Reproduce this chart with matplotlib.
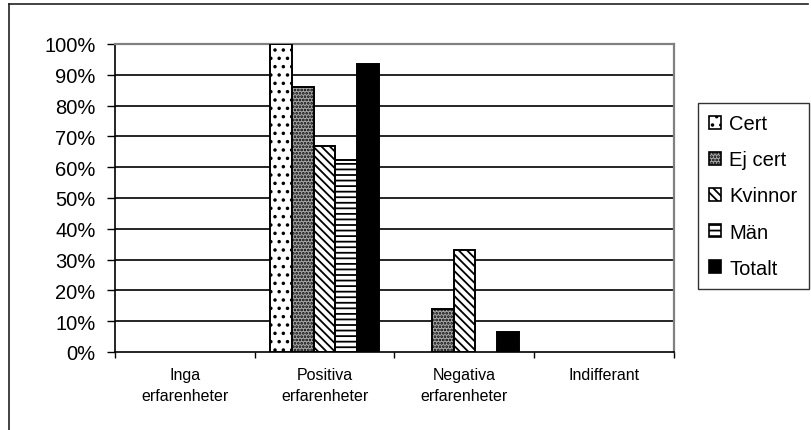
import matplotlib
matplotlib.use("Agg")
import matplotlib.pyplot as plt
import numpy as np
from matplotlib.lines import Line2D

plt.rcParams['font.family'] = ['Liberation Sans', 'DejaVu Sans']
plt.rcParams['hatch.linewidth'] = 1.3

categories = ["Inga\nerfarenheter", "Positiva\nerfarenheter", "Negativa\nerfarenheter", "Indifferant"]
series_names = ["Cert", "Ej cert", "Kvinnor", "Män", "Totalt"]
cert = [0, 100, 0, 0]
ej_cert = [0, 86, 14, 0]
kvinnor = [0, 67, 33, 0]
man = [0, 62.5, 0, 0]
totalt = [0, 93.5, 6.5, 0]
yticks = [0, 10, 20, 30, 40, 50, 60, 70, 80, 90, 100]
ytick_labels = [f"{v}%" for v in yticks]

series = [cert, ej_cert, kvinnor, man, totalt]
styles = [
    dict(facecolor='white', hatch='..'),
    dict(facecolor='#a8a8a8', hatch='.....'),
    dict(facecolor='white', hatch='\\\\\\\\'),
    dict(facecolor='white', hatch='---'),
    dict(facecolor='black', hatch=None),
]

fig = plt.figure(figsize=(8.12, 4.31), dpi=100)
ax = fig.add_axes([115/812, 1-353/431, (674-115)/812, (353-45)/431])

n = len(series)
w = 0.155
x = np.arange(len(categories)) + 0.5
handles = []
for i, (vals, st) in enumerate(zip(series, styles)):
    vals = np.array(vals, dtype=float)
    mask = vals > 0
    xs = x[mask] + (i - (n - 1) / 2) * w
    kw = {k: v for k, v in st.items() if v is not None}
    ax.bar(xs, vals[mask], width=w, edgecolor='black', linewidth=1.4,
           zorder=3, **kw)
    h = plt.Rectangle((0, 0), 1, 1, edgecolor='black', linewidth=1.2, **kw)
    handles.append(h)

ax.set_xlim(0, 4)
ax.set_ylim(0, 100)
ax.set_yticks(yticks)
ax.set_yticklabels(ytick_labels, fontsize=14.5)
for yv in yticks[1:-1]:
    ax.axhline(yv, color='black', linewidth=1.2, zorder=1)

ax.set_xticks([0, 1, 2, 3, 4])
ax.set_xticklabels([])
ax.set_xticks(x, minor=True)
ax.set_xticklabels(categories, minor=True, fontsize=11.5, linespacing=1.45)
ax.tick_params(axis='x', which='minor', length=0, pad=11)
ax.tick_params(axis='x', which='major', length=4, width=1, direction='out')
ax.tick_params(axis='y', length=6, width=1, direction='out', pad=8)

for s in ['top', 'right']:
    ax.spines[s].set_color('#808080')
    ax.spines[s].set_linewidth(1.6)
for s in ['left', 'bottom']:
    ax.spines[s].set_color('black')
    ax.spines[s].set_linewidth(1.2)

leg = fig.legend(handles, series_names, loc='center left',
                 bbox_to_anchor=(698/812, 1-197/431), fontsize=14.5,
                 frameon=True, fancybox=False, edgecolor='black',
                 handlelength=0.6, handleheight=0.6, handletextpad=0.4,
                 labelspacing=0.85, borderpad=0.55, borderaxespad=0)
leg.get_frame().set_linewidth(1.0)

# outer chart border
fig.add_artist(Line2D([9/812, 9/812], [0, 1-5/431], transform=fig.transFigure,
                      color='#222222', linewidth=1.2))
fig.add_artist(Line2D([9/812, 808/812], [1-5/431, 1-5/431], transform=fig.transFigure,
                      color='#222222', linewidth=1.2))

fig.savefig("out.png", dpi=100)
